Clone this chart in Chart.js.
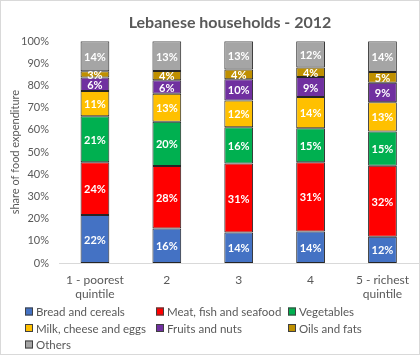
<!DOCTYPE html>
<html><head><meta charset="utf-8">
<script src="https://cdn.jsdelivr.net/npm/chart.js@4/dist/chart.umd.min.js"></script>
<style>html,body{margin:0;padding:0;background:#fff}#wrap{width:420px;height:355px;position:relative;box-sizing:border-box;border:1px solid #d9d9d9}</style>
</head><body><div id="wrap"><canvas id="c" width="418" height="353"></canvas></div>
<script>
const categories = [["1 - poorest","quintile"],"2","3","4",["5 - richest","quintile"]];
const breadCereals = [21.6, 15.6, 13.7, 14.2, 11.8];
const meatFish = [23.8, 28.1, 31.2, 31.2, 32.1];
const vegetables = [20.8, 20.0, 16.3, 15.4, 15.4];
const milkCheese = [11.3, 12.6, 12.1, 14.0, 13.2];
const fruitsNuts = [6.1, 6.1, 9.6, 9.1, 8.8];
const oilsFats = [2.8, 4.2, 4.3, 4.2, 4.8];
const others = [13.6, 13.4, 12.8, 11.9, 13.9];
const yTicks = [0,10,20,30,40,50,60,70,80,90,100];
const titleText = 'Lebanese households - 2012';

const FONT = "Lato, 'Open Sans', sans-serif";
const TXT = '#595959';
const series = [
  {label:'Bread and cereals', data:breadCereals, color:'#4472C4'},
  {label:'Meat, fish and seafood', data:meatFish, color:'#FF0000'},
  {label:'Vegetables', data:vegetables, color:'#00B050'},
  {label:'Milk, cheese and eggs', data:milkCheese, color:'#FFC000'},
  {label:'Fruits and nuts', data:fruitsNuts, color:'#7030A0'},
  {label:'Oils and fats', data:oilsFats, color:'#BF9000'},
  {label:'Others', data:others, color:'#A5A5A5'}
];

const labelPlugin = {
  id:'segLabels',
  afterDatasetsDraw(chart){
    const ctx = chart.ctx;
    ctx.save();
    ctx.font = "bold 11px " + FONT;
    ctx.fillStyle = '#fff';
    ctx.textAlign = 'center';
    ctx.textBaseline = 'middle';
    chart.data.datasets.forEach((ds, i) => {
      const meta = chart.getDatasetMeta(i);
      meta.data.forEach((bar, j) => {
        const v = ds.data[j];
        const yc = (bar.y + bar.base) / 2;
        ctx.fillText(Math.round(v) + '%', bar.x, yc + 1);
      });
    });
    ctx.restore();
  }
};

const titlePlugin = {
  id:'offsetTitle',
  afterDraw(chart){
    const ctx = chart.ctx;
    ctx.save();
    ctx.font = "bold 16px " + FONT;
    ctx.fillStyle = TXT;
    ctx.textAlign = 'center';
    ctx.textBaseline = 'middle';
    ctx.fillText(titleText, 229, 22);
    ctx.restore();
  }
};

const legendPlugin = {
  id:'gridLegend',
  afterDraw(chart){
    const ctx = chart.ctx;
    ctx.save();
    ctx.font = "11.5px " + FONT;
    ctx.textBaseline = 'middle';
    const cols = [24, 155, 287];
    const rows = [310.5, 327, 343.5];
    chart.data.datasets.forEach((ds, i) => {
      const x = cols[i % 3], y = rows[Math.floor(i / 3)];
      ctx.fillStyle = ds.backgroundColor;
      ctx.fillRect(x, y - 4, 8, 8);
      ctx.strokeStyle = '#404040';
      ctx.lineWidth = 1;
      ctx.strokeRect(x + 0.5, y - 3.5, 7, 7);
      ctx.fillStyle = TXT;
      ctx.fillText(ds.label, x + 11, y + 1);
    });
    ctx.restore();
  }
};

new Chart(document.getElementById('c'), {
  type:'bar',
  data:{
    labels: categories,
    datasets: series.map(s => ({
      label:s.label, data:s.data, backgroundColor:s.color,
      borderColor:'#262626', borderWidth:1, borderSkipped:false,
      barPercentage:0.4, categoryPercentage:1
    }))
  },
  options:{
    responsive:false, animation:false,
    layout:{padding:{left:0, right:0, top:0, bottom:53}},
    plugins:{
      legend:{display:false},
      tooltip:{enabled:false},
      title:{display:true, text:titleText, color:'rgba(0,0,0,0)',
        font:{family:FONT, size:16, weight:'bold'}, padding:{top:13, bottom:8}}
    },
    scales:{
      x:{stacked:true, grid:{display:false, drawTicks:false},
        border:{display:true, color:'#d9d9d9'},
        afterFit(ax){ ax.height = 38; },
        ticks:{color:TXT, font:{family:FONT, size:12}, padding:10, maxRotation:0}},
      y:{stacked:true, min:0, max:100,
        afterFit(ax){ ax.width = 58; },
        afterBuildTicks(ax){ ax.ticks = yTicks.map(v => ({value:v})); },
        grid:{display:false, drawTicks:false}, border:{display:false},
        title:{display:true, text:'share of food expenditure', color:TXT, font:{family:FONT, size:11}, padding:{top:8, bottom:2}},
        ticks:{color:TXT, font:{family:FONT, size:11}, padding:10, callback:v => v + '%'}}
    }
  },
  plugins:[labelPlugin, legendPlugin, titlePlugin]
});
</script></body></html>
